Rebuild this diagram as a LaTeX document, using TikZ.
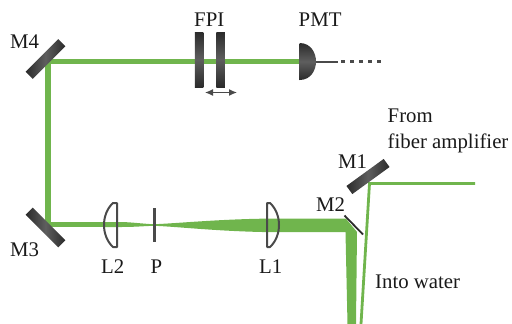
\documentclass[tikz,border=0pt]{standalone}
\usepackage{fontspec}
\setmainfont{Liberation Serif}
\usetikzlibrary{arrows.meta}
\definecolor{beam}{HTML}{70B54D}
\definecolor{optic}{HTML}{2B2B2B}
\definecolor{opticmid}{HTML}{5E5E5E}
\definecolor{wire}{HTML}{4A4A4A}
\tikzset{
  lab/.style={inner sep=0pt,anchor=base west,font=\fontsize{20.8}{24}\selectfont,text=black!90},
  mirror/.style={inner sep=0pt,minimum width=#1,minimum height=10pt,
    left color=optic,right color=optic,middle color=opticmid,draw=none},
  plate/.style={inner sep=0pt,minimum width=8.5pt,minimum height=55pt,
    top color=optic,bottom color=optic,middle color=opticmid,draw=none},
  ray/.style={draw=beam,line width=#1},
  lens/.style={draw=wire,line width=2pt,line join=round},
}
\begin{document}
\begin{tikzpicture}[x=1pt,y=-1pt]
\useasboundingbox (0,0) rectangle (512,324);
\coordinate (c4) at (48,61.5);
\coordinate (c3) at (48,224.5);
\coordinate (c1) at (369.5,183.5);
\coordinate (in) at (475,183.5);
\coordinate (out) at (361,324);
\coordinate (pmtin) at (300,61.5);
% green beams
\draw[ray=5.6pt,line join=miter] (pmtin) -- (c4) -- (c3) -- (105,224.5);
\fill[beam] (105,222) -- (122,222) .. controls (135,222.5) and (145,224) .. (154,224.2)
  .. controls (175,223.5) and (215,219.5) .. (262,218.7) -- (346,218.7)
  -- (357,232) -- (356,324) -- (347.5,324) -- (345.5,232) -- (262,232)
  .. controls (215,231) and (175,226.5) .. (154,225.8)
  .. controls (145,226) and (135,227) .. (122,227) -- (105,227) -- cycle;
\draw[ray=2.8pt,line join=miter] (in) -- (c1) -- (out);
% mirrors
\node[mirror=46pt,rotate=45] (M4) at (45.5,59) {};
\node[mirror=46pt,rotate=-45] (M3) at (45.5,227.5) {};
\node[mirror=46pt,rotate=36] (M1) at (368,176.5) {};
\draw[draw=optic,line width=1.8pt] (344.5,215.5) -- (363,234.5);
% etalon
\node[plate] (F1) at (199,59.5) {};
\node[plate] (F2) at (220.5,59.5) {};
\coordinate (a1) at (205,92.5);
\coordinate (a2) at (237,92.5);
\draw[wire,line width=1.2pt,{Latex[length=8pt,width=7pt]}-{Latex[length=8pt,width=7pt]}] (a1) -- (a2);
% lenses
\draw[lens] (117,203) -- (117,247) -- (113,247) .. controls (101,236) and (101,214) .. (113,203) -- cycle;
\draw[lens] (267,203) -- (267,247) -- (270,247) .. controls (282,236) and (282,214) .. (270,203) -- cycle;
% pinhole
\draw[draw=wire,line width=2.4pt] (154.5,208) -- (154.5,242);
% detector
\shade[top color=optic,bottom color=optic,middle color=opticmid] (299.5,43) .. controls (311,43) and (316,53) .. (316,61.5) .. controls (316,70) and (311,80) .. (299.5,80) -- cycle;
\coordinate (w0) at (316,61.5);
\coordinate (w1) at (338,61.5);
\coordinate (w2) at (385,61.5);
\draw[wire,line width=2pt] (w0) -- (w1);
\draw[wire,line width=2.4pt,dash pattern=on 4pt off 5pt] (w1)++(3,0) -- (w2);
% labels
\node[lab] (tM4) at (10,48) {M4};
\node[lab] (tFPI) at (194,27) {FPI};
\node[lab] (tPMT) at (298.5,27) {PMT};
\node[lab] (tFrom) at (387.5,122) {From};
\node[lab] (tFib) at (387.5,148) {fiber amplifier};
\node[lab] (tM1) at (338,168) {M1};
\node[lab] (tM2) at (316,211) {M2};
\node[lab] (tL1) at (259,273) {L1};
\node[lab] (tW) at (375,288) {Into water};
\node[lab] (tL2) at (101,273) {L2};
\node[lab] (tP) at (150.5,273) {P};
\node[lab] (tM3) at (10,256) {M3};
\end{tikzpicture}
\end{document}
